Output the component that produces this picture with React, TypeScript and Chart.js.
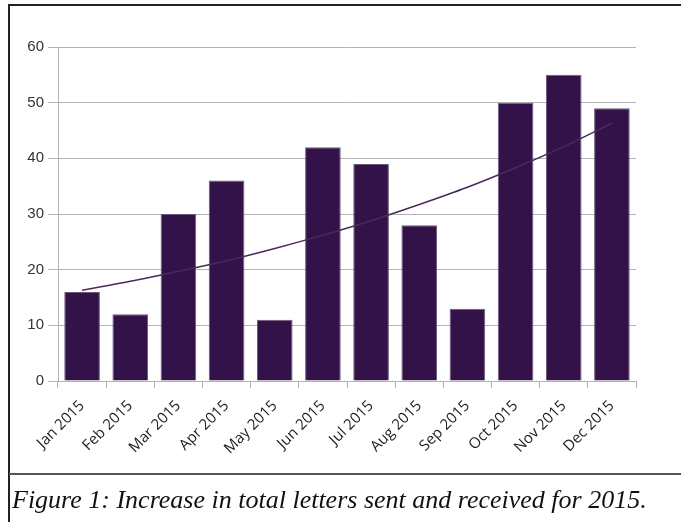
import React, { useEffect, useRef } from "react";
import { Chart, registerables } from "chart.js";

Chart.register(...registerables);

const categories = [
  "Jan 2015", "Feb 2015", "Mar 2015", "Apr 2015", "May 2015", "Jun 2015",
  "Jul 2015", "Aug 2015", "Sep 2015", "Oct 2015", "Nov 2015", "Dec 2015",
];
const letters = [16, 12, 30, 36, 11, 42, 39, 28, 13, 50, 55, 49];
const trend = [16.3, 17.9, 19.7, 21.6, 23.8, 26.2, 28.8, 31.7, 34.8, 38.3, 42.1, 46.3];
const yTicks = [0, 10, 20, 30, 40, 50, 60];
const caption = "Figure 1: Increase in total letters sent and received for 2015.";

const GRID = "#b3b3b3";

export default function App() {
  const ref = useRef<HTMLCanvasElement | null>(null);

  useEffect(() => {
    if (!ref.current) return;
    const chart = new Chart(ref.current, {
      type: "bar",
      data: {
        labels: categories,
        datasets: [
          {
            type: "line",
            data: trend,
            borderColor: "#4a2a5c",
            borderWidth: 1.5,
            pointRadius: 0,
            cubicInterpolationMode: "monotone",
            fill: false,
            order: 0,
          } as any,
          {
            type: "bar",
            data: letters,
            backgroundColor: "#33124a",
            borderColor: "#6a5a78",
            borderWidth: 1,
            categoryPercentage: 1,
            barPercentage: 0.74,
            order: 1,
          },
        ],
      },
      options: {
        animation: false,
        responsive: false,
        maintainAspectRatio: false,
        layout: { padding: { left: 0, top: 47, right: 45, bottom: 0 } },
        plugins: { legend: { display: false }, tooltip: { enabled: false } },
        scales: {
          x: {
            offset: true,
            grid: {
              offset: true,
              drawOnChartArea: true,
              color: (ctx: any) => (ctx.index === categories.length ? GRID : "rgba(0,0,0,0)"),
              tickColor: GRID,
              tickLength: 7,
            },
            border: { color: GRID },
            ticks: {
              maxRotation: 45,
              minRotation: 45,
              padding: 9,
              color: "#222",
              font: { family: "'Open Sans'", size: 15 },
            },
            afterFit: (s: any) => {
              s.height = 92;
            },
          },
          y: {
            min: 0,
            max: 60,
            afterBuildTicks: (s: any) => {
              s.ticks = yTicks.map((v) => ({ value: v }));
            },
            grid: { color: GRID, tickColor: GRID, tickLength: 10 },
            border: { color: GRID },
            ticks: {
              padding: 4,
              color: "#333",
              font: { family: "'Liberation Sans'", size: 15 },
            },
            afterFit: (s: any) => {
              s.width = 58;
            },
          },
        },
      },
    });
    return () => chart.destroy();
  }, []);

  return (
    <div style={{ position: "fixed", left: 0, top: 0, width: 681, height: 522, background: "#fff", overflow: "hidden" }}>
      <canvas ref={ref} width={681} height={473} style={{ position: "absolute", left: 0, top: 0, width: 681, height: 473 }} />
      <div style={{ position: "absolute", left: 9, top: 4, width: 672, height: 2, background: "#222" }} />
      <div style={{ position: "absolute", left: 8, top: 4, width: 2, height: 518, background: "#222" }} />
      <div style={{ position: "absolute", left: 9, top: 473, width: 672, height: 1.5, background: "#555" }} />
      <div
        style={{
          position: "absolute",
          left: 12,
          top: 483,
          whiteSpace: "nowrap",
          fontFamily: "'Liberation Serif', serif",
          fontStyle: "italic",
          fontSize: 26,
          lineHeight: "34px",
          color: "#111",
        }}
      >
        {caption}
      </div>
    </div>
  );
}
